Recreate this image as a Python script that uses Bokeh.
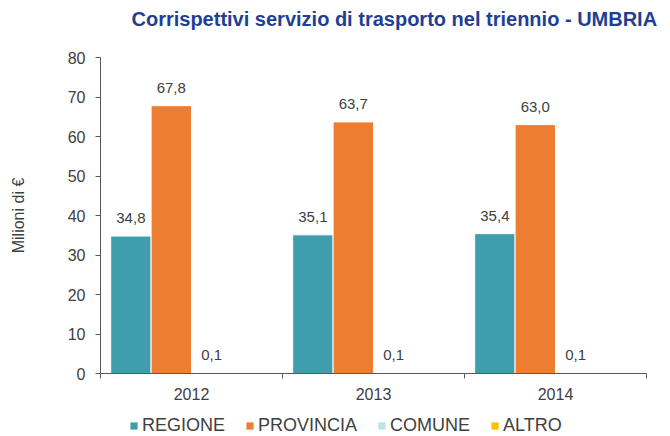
import numpy as np
from bokeh.plotting import figure
from bokeh.layouts import column
from bokeh.models import (ColumnDataSource, Range1d, LinearAxis, FixedTicker, Title,
                          Legend, LegendItem, LabelSet)
from bokeh.core.properties import value
from bokeh.embed import file_html
from bokeh.resources import INLINE

years = ["2012", "2013", "2014"]
series = ["REGIONE", "PROVINCIA", "COMUNE", "ALTRO"]
regione = [34.8, 35.1, 35.4]
provincia = [67.8, 63.7, 63.0]
comune = [0.1, 0.1, 0.1]
altro = [0.0, 0.0, 0.0]
y_ticks = [0, 10, 20, 30, 40, 50, 60, 70, 80]
colors = ["#409DAE", "#ED7D31", "#BEE0E8", "#FFC000"]
values = [regione, provincia, comune, altro]

FONT = "Liberation Sans"
TXT = "#404040"


def strip(h):
    f = figure(width=662, height=h, output_backend="svg", toolbar_location=None,
               x_range=Range1d(100, 101), y_range=Range1d(1000, 1001),
               x_axis_location=None, y_axis_location=None, min_border=0)
    f.outline_line_color = None
    f.xgrid.visible = False
    f.ygrid.visible = False
    return f


# title strip
tf = strip(44)
tf.add_layout(Title(text="Corrispettivi servizio di trasporto nel triennio - UMBRIA",
                    align="left", offset=31, text_font=FONT, vertical_align="bottom",
                    text_font_style="bold", text_font_size="20px", text_color="#1F3F94",
                    standoff=10), "above")

p = figure(width=662, height=364, output_backend="svg", toolbar_location=None,
           x_range=Range1d(0, len(years)), y_range=Range1d(0, 80),
           x_axis_location=None, y_axis_location=None,
           min_border_left=100, min_border_right=16, min_border_top=13, min_border_bottom=35)
p.outline_line_color = None
p.xgrid.visible = False
p.ygrid.visible = False

# axes
yax = LinearAxis(ticker=FixedTicker(ticks=y_ticks, minor_ticks=[]))
yax.axis_label = "Milioni di €"
yax.axis_label_text_font = FONT
yax.axis_label_text_font_style = "normal"
yax.axis_label_text_font_size = "16px"
yax.axis_label_text_color = TXT
yax.axis_label_standoff = 38
yax.major_label_text_font = FONT
yax.major_label_text_font_size = "16px"
yax.major_label_text_color = TXT
yax.major_label_standoff = 10
yax.major_tick_out = 5
yax.major_tick_in = 0
yax.axis_line_color = "#595959"
yax.major_tick_line_color = "#595959"
p.add_layout(yax, "left")

centers = list(np.arange(len(years)) + 0.5)
bounds = list(np.arange(len(years) + 1))
xax = LinearAxis(ticker=FixedTicker(ticks=centers, minor_ticks=bounds))
xax.major_label_overrides = {c: y for c, y in zip(centers, years)}
xax.major_label_text_font = FONT
xax.major_label_text_font_size = "16px"
xax.major_label_text_color = TXT
xax.major_label_standoff = 8
xax.major_tick_line_color = None
xax.minor_tick_out = 5
xax.minor_tick_in = 0
xax.minor_tick_line_color = "#595959"
xax.axis_line_color = "#595959"
p.add_layout(xax, "below")

# bars
n = len(series)
bw = 0.222
offsets = (np.arange(n) - (n - 1) / 2) * bw
base = np.arange(len(years)) + 0.5
for s, vals, col, off in zip(series, values, colors, offsets):
    src = ColumnDataSource(dict(x=base + off, top=vals))
    p.vbar(x="x", top="top", width=bw, bottom=0, source=src,
           fill_color=col, line_color="white", line_width=1)
    vals_arr = np.array(vals)
    mask = vals_arr > 0
    if mask.any():
        lsrc = ColumnDataSource(dict(
            x=(base + off)[mask], y=vals_arr[mask],
            t=[f"{v:.1f}".replace(".", ",") for v in vals_arr[mask]]))
        p.add_layout(LabelSet(x="x", y="y", text="t", source=lsrc,
                              text_align="center", text_baseline="alphabetic",
                              y_offset=13, text_font=value(FONT), text_font_size=value("15px"),
                              text_color=value(TXT)))

# legend strip (its bars lie outside its visible range; only the legend shows)
lf = strip(28)
items = []
for s, vals, col, off in zip(series, values, colors, offsets):
    src = ColumnDataSource(dict(x=base + off, top=vals))
    r = lf.vbar(x="x", top="top", width=bw, bottom=0, source=src,
                fill_color=col, line_color=None)
    items.append(LegendItem(label=s, renderers=[r]))
legend = Legend(items=items, orientation="horizontal", location=(29, 0),
                label_text_font=FONT, label_text_font_size="18px", label_text_color=TXT,
                glyph_width=9, glyph_height=9, label_standoff=4, spacing=20,
                padding=0, margin=0, border_line_color=None, background_fill_alpha=0)
lf.add_layout(legend, "center")

open("out.html", "w").write(file_html(column(tf, p, lf), INLINE))
